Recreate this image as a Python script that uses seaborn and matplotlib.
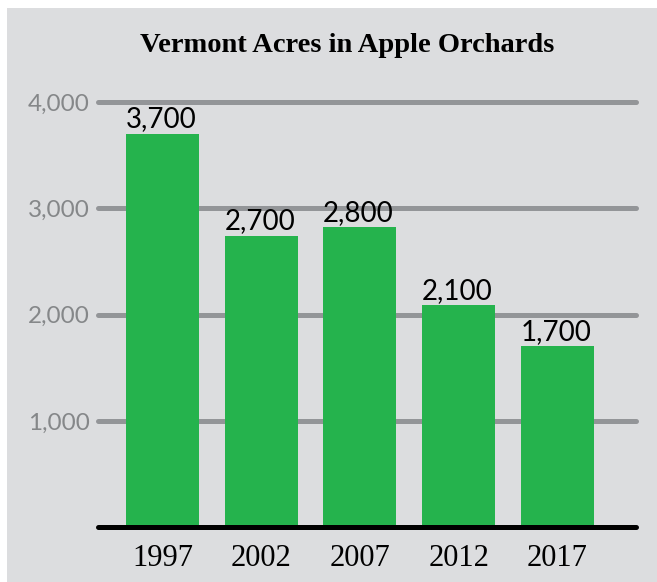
import matplotlib
matplotlib.use("Agg")
import matplotlib.pyplot as plt
import seaborn as sns
import pandas as pd
from matplotlib.patches import Rectangle

years = ["1997", "2002", "2007", "2012", "2017"]
acres = [3700, 2740, 2820, 2090, 1700]          # bar heights as drawn
labels = ["3,700", "2,700", "2,800", "2,100", "1,700"]  # printed values
yticks = [1000, 2000, 3000, 4000]
ytick_labels = ["1,000", "2,000", "3,000", "4,000"]

bg = "#dcdddf"
green = "#25b34d"
grid_gray = "#939598"

df = pd.DataFrame({"Year": years, "Acres": acres})

sns.set_style("white")
fig = plt.figure(figsize=(6.57, 5.82), dpi=100)
fig.patches.append(Rectangle((7 / 657, 0), 1, 1 - 8 / 582, transform=fig.transFigure,
                             facecolor=bg, edgecolor="none", zorder=-10))

ax = fig.add_axes([98 / 657, 0.0942, (636 - 98) / 657, 0.7426])
ax.set_facecolor("none")

sns.barplot(data=df, x="Year", y="Acres", color=green, saturation=1, width=0.739,
            linewidth=0, edgecolor="none", ax=ax, zorder=3)

ax.set_xlim(-0.653, 4.795)
ax.set_ylim(0, 4066)
ax.set_yticks(yticks)
ax.set_yticklabels(ytick_labels)
for y in yticks:
    ax.axhline(y, color=grid_gray, lw=3.6, zorder=1, clip_on=False)
ax.axhline(0, color="black", lw=3.6, zorder=4, clip_on=False)

for s in ax.spines.values():
    s.set_visible(False)
ax.tick_params(axis="both", length=0)
ax.tick_params(axis="y", pad=6, labelcolor="#858789")
ax.tick_params(axis="x", pad=12, labelcolor="black")
for t in ax.get_yticklabels():
    t.set_fontfamily("Lato")
    t.set_fontsize(17.5)
for t in ax.get_xticklabels():
    t.set_fontfamily("Liberation Serif")
    t.set_fontsize(22)
ax.set_xlabel("")
ax.set_ylabel("")

for i, (v, lab) in enumerate(zip(acres, labels)):
    ax.annotate(lab, (i, v), xytext=(-1, 1), textcoords="offset points",
                ha="center", va="bottom", fontsize=20, family="Lato", color="black", zorder=5)

fig.text(347 / 657, 1 - 45 / 582, "Vermont Acres in Apple Orchards", ha="center", va="center",
         fontsize=20.5, fontweight="bold", family="Liberation Serif", color="black")

fig.savefig("out.png", dpi=100)
